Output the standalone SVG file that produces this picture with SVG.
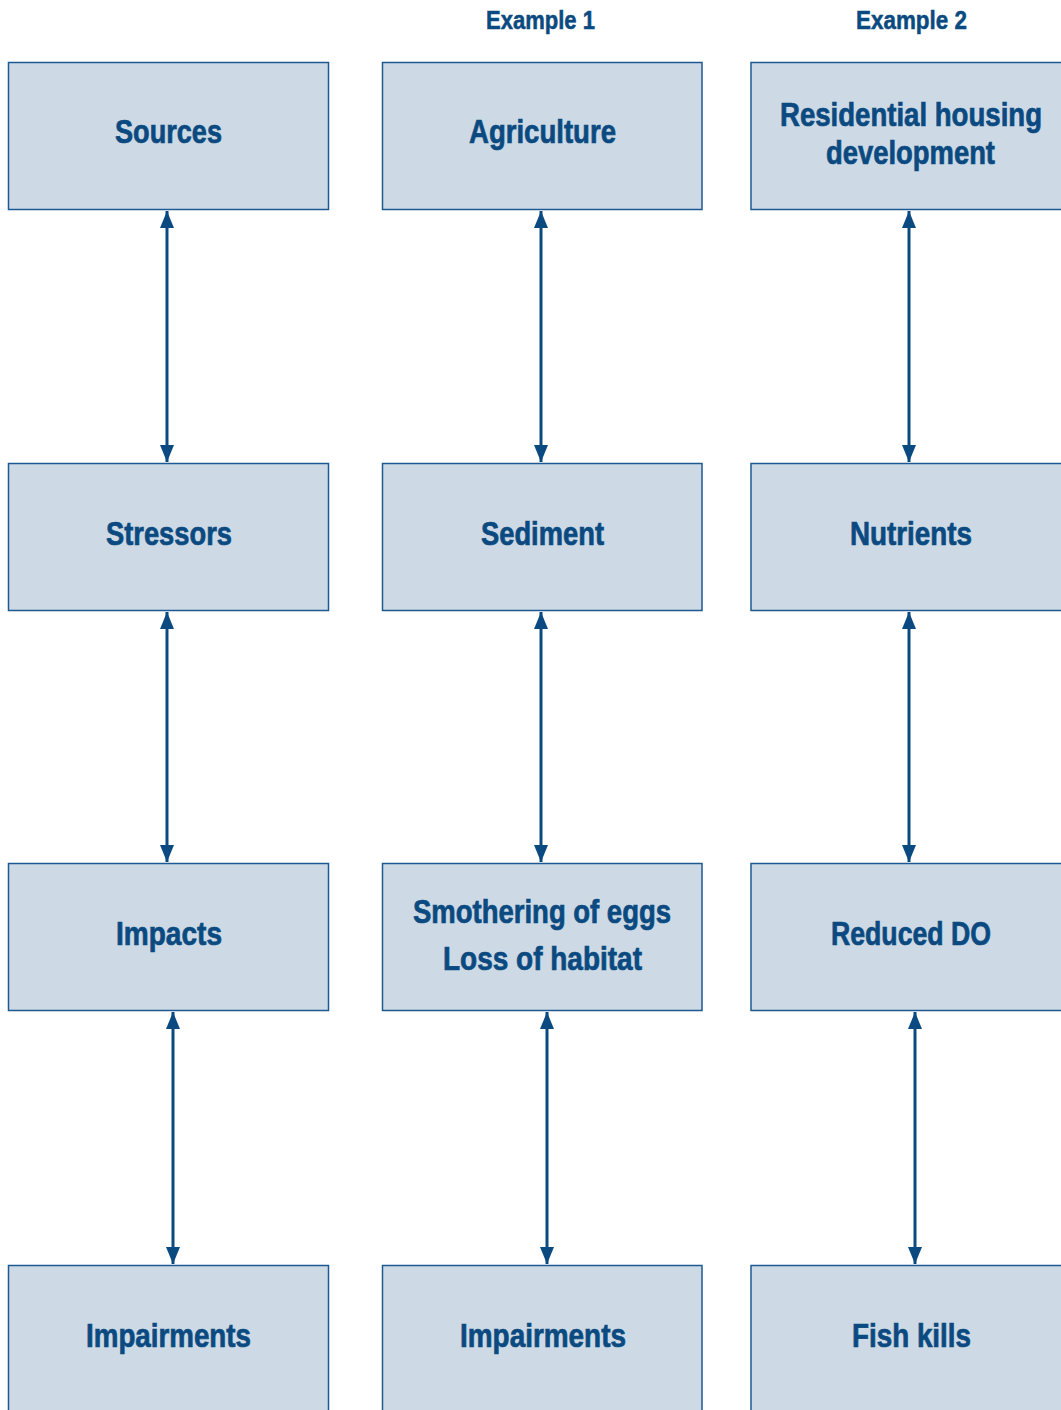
<svg xmlns="http://www.w3.org/2000/svg" width="1061" height="1410" viewBox="0 0 1061 1410">
<style>
.box{fill:#cddae6;stroke:#1d5a92;stroke-width:1.5}
.t{font-family:"Liberation Sans",Arial,sans-serif;font-weight:bold;font-size:33px;fill:#0b4a80;stroke:#0b4a80;stroke-width:0.7;text-anchor:middle}
.h{font-family:"Liberation Sans",Arial,sans-serif;font-weight:bold;font-size:25px;fill:#0b4a80;stroke:#0b4a80;stroke-width:0.5;text-anchor:middle}
.c{stroke:#0b4a80;stroke-width:3;fill:none;marker-start:url(#a);marker-end:url(#a)}
</style>
<defs>
<marker id="a" viewBox="0 0 10 10" refX="10" refY="5" markerWidth="17" markerHeight="14" markerUnits="userSpaceOnUse" orient="auto-start-reverse" preserveAspectRatio="none">
<path d="M0,0 L10,5 L0,10 Z" fill="#0b4a80"/>
</marker>
</defs>
<rect width="1061" height="1410" fill="#fff"/>
<text class="h" x="540.5" y="29" textLength="109" lengthAdjust="spacingAndGlyphs">Example 1</text>
<text class="h" x="911.5" y="29" textLength="111" lengthAdjust="spacingAndGlyphs">Example 2</text>
<g id="n-sources"><rect class="box" x="8.5" y="62.5" width="320" height="147"/><text class="t" x="168.5" y="143" textLength="107" lengthAdjust="spacingAndGlyphs">Sources</text></g>
<g id="n-agriculture"><rect class="box" x="382.5" y="62.5" width="319.5" height="147"/><text class="t" x="542.5" y="143" textLength="147" lengthAdjust="spacingAndGlyphs">Agriculture</text></g>
<g id="n-residential"><rect class="box" x="751" y="62.5" width="311" height="147"/><text class="t" x="911" y="126" textLength="262" lengthAdjust="spacingAndGlyphs">Residential housing</text><text class="t" x="910.5" y="164" textLength="169" lengthAdjust="spacingAndGlyphs">development</text></g>
<g id="n-stressors"><rect class="box" x="8.5" y="463.5" width="320" height="147"/><text class="t" x="169" y="545" textLength="126" lengthAdjust="spacingAndGlyphs">Stressors</text></g>
<g id="n-sediment"><rect class="box" x="382.5" y="463.5" width="319.5" height="147"/><text class="t" x="542.5" y="545" textLength="123" lengthAdjust="spacingAndGlyphs">Sediment</text></g>
<g id="n-nutrients"><rect class="box" x="751" y="463.5" width="311" height="147"/><text class="t" x="911" y="545" textLength="122" lengthAdjust="spacingAndGlyphs">Nutrients</text></g>
<g id="n-impacts"><rect class="box" x="8.5" y="863.5" width="320" height="147"/><text class="t" x="169" y="945" textLength="106" lengthAdjust="spacingAndGlyphs">Impacts</text></g>
<g id="n-smothering"><rect class="box" x="382.5" y="863.5" width="319.5" height="147"/><text class="t" x="542" y="923" textLength="258" lengthAdjust="spacingAndGlyphs">Smothering of eggs</text><text class="t" x="542.5" y="970" textLength="199" lengthAdjust="spacingAndGlyphs">Loss of habitat</text></g>
<g id="n-reduceddo"><rect class="box" x="751" y="863.5" width="311" height="147"/><text class="t" x="911" y="945" textLength="160" lengthAdjust="spacingAndGlyphs">Reduced DO</text></g>
<g id="n-impairments1"><rect class="box" x="8.5" y="1265.5" width="320" height="160"/><text class="t" x="168.5" y="1347" textLength="165" lengthAdjust="spacingAndGlyphs">Impairments</text></g>
<g id="n-impairments2"><rect class="box" x="382.5" y="1265.5" width="319.5" height="160"/><text class="t" x="543" y="1347" textLength="166" lengthAdjust="spacingAndGlyphs">Impairments</text></g>
<g id="n-fishkills"><rect class="box" x="751" y="1265.5" width="311" height="160"/><text class="t" x="911.5" y="1347" textLength="119" lengthAdjust="spacingAndGlyphs">Fish kills</text></g>
<g id="connectors">
<line class="c" x1="167" y1="211" x2="167" y2="462"/>
<line class="c" x1="167" y1="612" x2="167" y2="862"/>
<line class="c" x1="173" y1="1012" x2="173" y2="1264"/>
<line class="c" x1="541" y1="211" x2="541" y2="462"/>
<line class="c" x1="541" y1="612" x2="541" y2="862"/>
<line class="c" x1="547" y1="1012" x2="547" y2="1264"/>
<line class="c" x1="909" y1="211" x2="909" y2="462"/>
<line class="c" x1="909" y1="612" x2="909" y2="862"/>
<line class="c" x1="915" y1="1012" x2="915" y2="1264"/>
</g>
</svg>
